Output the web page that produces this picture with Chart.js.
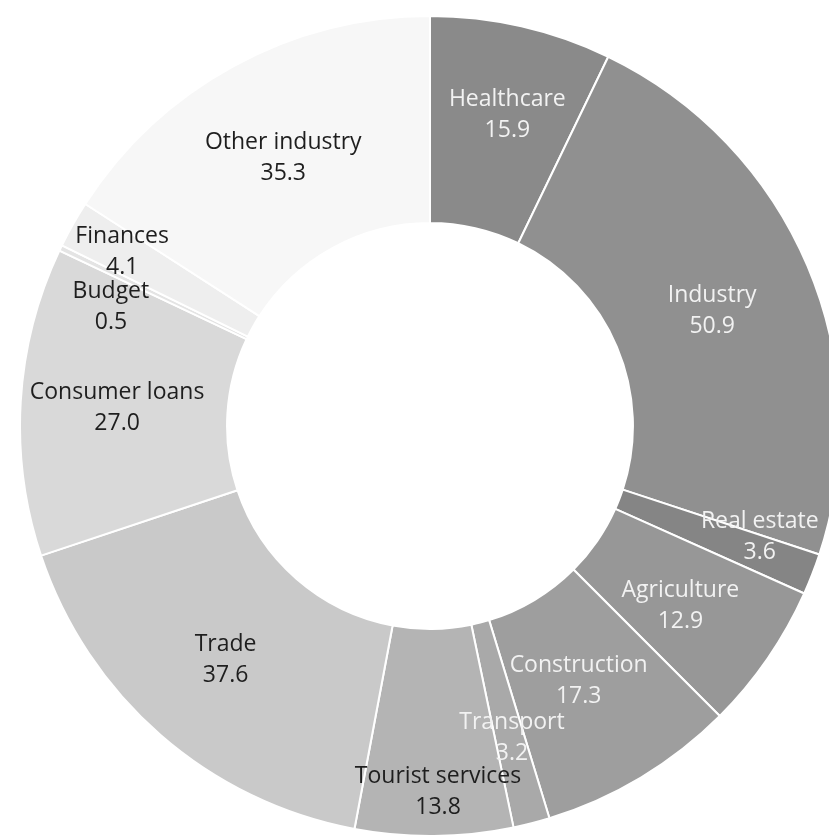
<!DOCTYPE html>
<html>
<head>
<meta charset="utf-8">
<title>Loans by sector</title>
<script src="https://cdn.jsdelivr.net/npm/chart.js@4/dist/chart.umd.min.js"></script>
<style>
  html, body { margin: 0; padding: 0; background: #ffffff; overflow: hidden; }
  body { width: 829px; height: 836px; position: relative; }
  #wrap { position: absolute; left: 19px; top: 15px; width: 822px; height: 822px; }
</style>
</head>
<body>
<div id="wrap"><canvas id="mycanvas" width="822" height="822"></canvas></div>
<script>
// sectors, clockwise from 12 o'clock
var sectors = ["Healthcare", "Industry", "Real estate", "Agriculture", "Construction", "Transport",
               "Tourist services", "Trade", "Consumer loans", "Budget", "Finances", "Other industry"];
var amounts = [15.9, 50.9, 3.6, 12.9, 17.3, 3.2, 13.8, 37.6, 27.0, 0.5, 4.1, 35.3];

// fills and label colours per slice
var sliceColors = ["#8a8a8a", "#909090", "#858585", "#979797", "#9e9e9e", "#a9a9a9",
                   "#b4b4b4", "#c9c9c9", "#d9d9d9", "#e4e4e4", "#eeeeee", "#f7f7f7"];
var textColors = ["#f2f2f2", "#f2f2f2", "#f2f2f2", "#f2f2f2", "#f2f2f2", "#f2f2f2",
                  "#1e1e1e", "#1e1e1e", "#1e1e1e", "#1e1e1e", "#1e1e1e", "#1e1e1e"];
// nudges for labels that sit away from the slice centre
var labelShift = [[9, -13], [0, 4], [44, 0], [-2, 6], [-9, -8], [6, 15],
                  [5, 59], [-3, 2], [-7, 0], [-43, 14], [-41, -24], [0, 1]];

var sliceLabels = {
	id: "sliceLabels",
	afterDatasetsDraw: function(chart) {
		var ctx = chart.ctx;
		var meta = chart.getDatasetMeta(0);
		ctx.save();
		ctx.font = "23px 'Open Sans', sans-serif";
		ctx.textAlign = "center";
		ctx.textBaseline = "middle";
		for (var i = 0; i < meta.data.length; i++) {
			var p = meta.data[i].tooltipPosition();
			var x = p.x + labelShift[i][0];
			var y = p.y + labelShift[i][1];
			ctx.fillStyle = textColors[i];
			ctx.fillText(sectors[i], x, y - 15);
			ctx.fillText(amounts[i].toFixed(1), x, y + 16);
		}
		ctx.restore();
	}
};

var chartdata = {
	labels: sectors,
	datasets: [
		{
			data: amounts,
			backgroundColor: sliceColors,
			borderColor: "#ffffff",
			borderWidth: 2
		}
	]
};

var ctx = document.getElementById("mycanvas");

var DonutChart = new Chart(ctx, {
	type: "doughnut",
	data: chartdata,
	options: {
		responsive: false,
		devicePixelRatio: 1,
		animation: false,
		cutout: "49.5%",
		layout: { padding: 0 },
		plugins: {
			legend: { display: false },
			tooltip: { enabled: false }
		}
	},
	plugins: [sliceLabels]
});
</script>
</body>
</html>
